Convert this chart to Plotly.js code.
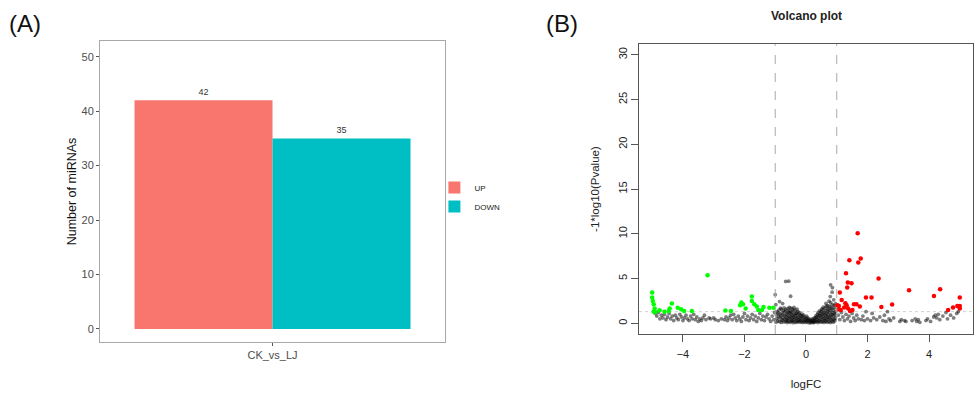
<!DOCTYPE html>
<html>
<head>
<meta charset="utf-8">
<script src="https://cdn.plot.ly/plotly-3.0.1.min.js"></script>
<style>html,body{margin:0;padding:0;background:#fff;}#chart{width:974px;height:394px;}</style>
</head>
<body>
<div id="chart"></div>
<script>
// ---- Panel A data ----
const categories = ["CK_vs_LJ"];
const upCounts = [42];
const downCounts = [35];
const yTicksA = [0, 10, 20, 30, 40, 50];

// ---- Panel B data (logFC, -log10 Pvalue) ----
const upPoints = [
  [1.68,10.07],[1.41,7.05],[1.78,7.24],[1.70,6.79],[1.30,5.60],[2.36,5.00],
  [1.36,4.55],[1.48,4.48],[1.34,3.99],[1.10,3.43],[3.35,3.69],[4.36,3.80],
  [4.16,3.06],[1.95,2.87],[2.13,2.87],[1.16,2.61],[1.28,2.24],[1.32,2.01],
  [1.56,2.13],[1.64,2.13],[1.75,1.87],[1.02,2.01],[1.05,1.57],[1.13,1.49],
  [1.37,1.64],[1.43,1.38],[1.51,1.49],[2.45,1.83],[2.80,2.09],[5.00,2.87],
  [5.00,1.94],[5.00,1.64],[4.92,1.94],[4.78,1.75],[4.62,1.49],[1.24,1.75],
  [1.07,1.94]
];
const downPoints = [
  [-5.00,3.43],[-5.00,2.87],[-4.98,2.50],[-4.95,2.13],[-4.92,1.64],[-4.90,1.27],
  [-4.95,1.30],[-4.76,1.45],[-4.60,1.30],[-4.46,1.38],[-4.36,2.20],[-4.43,1.64],
  [-4.17,1.72],[-4.06,1.57],[-3.96,1.38],[-3.71,1.38],[-3.20,5.37],[-2.62,1.42],
  [-2.44,1.38],[-2.10,2.31],[-2.05,2.13],[-2.14,2.00],[-1.96,1.64],[-1.76,2.99],
  [-1.76,2.50],[-1.68,2.13],[-1.60,1.87],[-1.55,1.49],[-1.43,1.49],[-1.38,1.83],
  [-1.19,1.72],[-1.06,1.72]
];
const nsLeft = [
  [-4.9,1.1],[-4.85,0.8],[-4.8,1.2],[-4.75,0.5],[-4.7,0.9],[-4.65,0.6],[-4.6,1.0],
  [-4.55,0.4],[-4.5,0.7],[-4.45,1.1],[-4.4,0.5],[-4.35,0.8],[-4.3,0.3],[-4.25,0.9],
  [-4.2,0.6],[-4.15,0.4],[-4.1,1.0],[-4.05,0.7],[-4.0,0.3],[-3.95,0.6],[-3.9,0.9],
  [-3.85,0.5],[-3.8,0.3],[-3.75,0.8],[-3.7,0.5],[-3.65,1.0],[-3.6,0.4],[-3.55,0.7],
  [-3.5,0.2],[-3.45,0.5],[-3.4,0.3],[-3.35,0.6],[-3.3,0.9],[-3.25,0.4],[-3.15,0.6],
  [-3.1,0.5],[-3.0,0.6],[-2.95,0.4],[-2.85,0.3],[-2.75,0.5],[-2.65,0.4],[-2.6,0.7],
  [-2.55,0.3],[-2.5,0.6],[-2.45,0.9],[-2.4,0.4],[-2.35,1.0],[-2.3,0.6],[-2.25,0.3],
  [-2.2,0.8],[-2.15,0.5],[-2.1,0.2],[-2.05,0.7],[-2.0,1.1],[-1.95,0.4],[-1.9,0.8],
  [-1.85,0.3],[-1.8,0.6],[-1.75,1.0],[-1.7,0.4],[-1.65,0.8],[-1.6,0.2],[-1.55,0.6],
  [-1.5,1.1],[-1.45,0.4],[-1.4,0.8],[-1.35,0.3],[-1.3,0.7],[-1.25,1.0],[-1.2,0.5],
  [-1.15,0.2],[-1.1,0.8],[-1.05,0.4],[-1.02,1.2],[-1.0,3.2]
];
const nsCenter = [
  [-0.97,0.12],[-0.95,0.52],[-0.96,0.93],[-0.94,1.31],[-0.98,2.08],
  [-0.91,0.28],[-0.89,0.71],[-0.9,1.12],[-0.88,1.47],
  [-0.86,0.18],[-0.84,0.63],[-0.85,1.02],[-0.83,1.68],[-0.86,2.42],
  [-0.8,0.09],[-0.79,0.41],[-0.81,0.82],[-0.78,1.19],[-0.8,1.58],
  [-0.76,0.32],[-0.74,0.61],[-0.75,0.98],[-0.73,1.41],[-0.76,2.2],
  [-0.71,0.13],[-0.69,0.49],[-0.7,0.88],[-0.68,1.29],[-0.71,1.72],
  [-0.66,0.22],[-0.64,0.42],[-0.65,0.74],[-0.63,1.09],[-0.66,1.52],[-0.66,4.68],
  [-0.61,0.08],[-0.6,0.31],[-0.59,0.58],[-0.61,0.91],[-0.58,1.22],[-0.6,1.63],
  [-0.56,0.19],[-0.54,0.52],[-0.55,0.79],[-0.53,1.12],[-0.56,1.41],[-0.54,1.78],[-0.56,4.7],
  [-0.51,0.11],[-0.49,0.38],[-0.5,0.71],[-0.48,1.02],[-0.51,1.33],[-0.49,1.69],[-0.5,3.02],
  [-0.46,0.21],[-0.44,0.33],[-0.45,0.62],[-0.43,0.88],[-0.46,1.21],[-0.44,1.58],
  [-0.41,0.07],[-0.39,0.42],[-0.4,0.69],[-0.38,1.01],[-0.41,1.38],[-0.39,1.76],
  [-0.36,0.18],[-0.34,0.51],[-0.35,0.82],[-0.33,1.08],[-0.36,1.49],
  [-0.31,0.09],[-0.29,0.29],[-0.3,0.61],[-0.28,0.92],[-0.31,1.18],[-0.29,1.57],
  [-0.26,0.22],[-0.24,0.41],[-0.25,0.68],[-0.23,1.03],[-0.26,1.31],
  [-0.21,0.12],[-0.19,0.32],[-0.2,0.58],[-0.18,0.87],[-0.21,1.19],
  [-0.16,0.18],[-0.14,0.49],[-0.15,0.79],[-0.13,1.02],
  [-0.11,0.08],[-0.09,0.31],[-0.1,0.62],[-0.08,0.91],
  [-0.06,0.19],[-0.04,0.42],[-0.05,0.71],
  [-0.01,0.09],[0.01,0.28],[0.0,0.52],[0.02,0.79],
  [0.04,0.18],[0.06,0.39],[0.05,0.61],
  [0.09,0.07],[0.11,0.29],[0.1,0.48],
  [0.14,0.05],[0.16,0.21],[0.15,0.38],
  [0.19,0.11],[0.21,0.28],[0.2,0.49],
  [0.24,0.06],[0.26,0.19],[0.25,0.41],[0.27,0.59],
  [0.29,0.12],[0.31,0.31],[0.3,0.58],[0.32,0.81],
  [0.34,0.19],[0.36,0.42],[0.35,0.69],[0.37,0.98],
  [0.39,0.08],[0.41,0.29],[0.4,0.61],[0.42,0.89],[0.39,1.18],
  [0.44,0.21],[0.46,0.49],[0.45,0.82],[0.47,1.09],[0.44,1.39],
  [0.49,0.12],[0.51,0.38],[0.5,0.71],[0.52,0.99],[0.49,1.31],[0.51,1.58],
  [0.54,0.18],[0.56,0.51],[0.55,0.79],[0.57,1.12],[0.54,1.48],[0.56,1.79],
  [0.59,0.09],[0.61,0.32],[0.6,0.58],[0.62,0.91],[0.59,1.21],[0.61,1.69],
  [0.64,0.22],[0.66,0.48],[0.65,0.81],[0.67,1.08],[0.64,1.42],[0.66,1.88],[0.65,2.21],
  [0.69,0.11],[0.71,0.41],[0.7,0.69],[0.72,1.02],[0.69,1.31],[0.71,1.62],[0.7,1.98],
  [0.74,0.19],[0.76,0.52],[0.75,0.78],[0.77,1.19],[0.74,1.51],[0.76,1.91],[0.75,2.48],
  [0.79,0.08],[0.81,0.39],[0.8,0.72],[0.82,0.98],[0.79,1.41],[0.81,1.78],[0.8,2.31],[0.79,2.98],[0.8,4.3],
  [0.84,0.21],[0.86,0.49],[0.85,0.91],[0.87,1.18],[0.84,1.62],[0.86,2.08],[0.85,3.48],[0.86,3.98],
  [0.89,0.12],[0.91,0.42],[0.9,0.79],[0.92,1.12],[0.89,1.48],[0.91,1.98],[0.9,2.62],
  [0.94,0.28],[0.96,0.59],[0.95,0.98],[0.97,1.31],[0.94,1.72],[0.96,2.18]
];
const nsRight = [
  [1.05,0.9],[1.1,0.4],[1.15,1.2],[1.2,0.7],[1.25,0.3],[1.3,1.0],[1.35,0.5],[1.4,0.8],
  [1.45,0.2],[1.5,1.1],[1.55,0.6],[1.6,0.3],[1.65,0.9],[1.7,0.5],[1.8,0.4],[1.85,0.8],
  [1.9,0.3],[1.95,1.3],[2.0,0.5],[2.1,0.3],[2.15,1.1],[2.2,0.6],[2.3,0.4],[2.4,0.7],
  [2.5,0.3],[2.55,0.9],[2.6,0.2],[2.65,1.3],[2.7,0.5],[2.75,0.3],[2.85,0.6],[3.05,0.2],
  [3.1,0.4],[3.2,0.3],[3.25,0.2],[3.45,0.3],[3.55,0.5],[3.6,0.2],[3.65,0.4],[3.7,0.1],
  [3.9,0.3],[3.95,0.5],[4.05,0.2],[4.15,0.7],[4.2,0.9],[4.25,0.6],[4.3,1.0],[4.35,0.4],
  [4.45,0.8],[4.55,1.2],[4.6,0.5],[4.7,0.9],[4.8,0.6],[4.9,1.1],[4.95,1.3]
];
const xTicksB = [-4, -2, 0, 2, 4];
const yTicksB = [0, 5, 10, 15, 20, 25, 30];
const fcCut = [-1, 1];
const pCut = 1.3;

const nsAll = nsLeft.concat(nsCenter, nsRight);
const FONT = "Liberation Sans, Arial, sans-serif";

const traces = [
  {type:'bar', name:'UP', x:categories, y:upCounts, xaxis:'x', yaxis:'y',
   marker:{color:'#F8766D'}, text:upCounts.map(String), textposition:'outside',
   textfont:{size:9, color:'#333', family:FONT}, cliponaxis:false, hoverinfo:'none'},
  {type:'bar', name:'DOWN', x:categories, y:downCounts, xaxis:'x', yaxis:'y',
   marker:{color:'#00BFC4'}, text:downCounts.map(String), textposition:'outside',
   textfont:{size:9, color:'#333', family:FONT}, cliponaxis:false, hoverinfo:'none'},
  {type:'scatter', mode:'markers', x:nsAll.map(p=>p[0]), y:nsAll.map(p=>p[1]),
   xaxis:'x2', yaxis:'y2', showlegend:false,
   marker:{size:3.8, color:'rgba(0,0,0,0.5)', line:{width:0}}},
  {type:'scatter', mode:'markers', x:downPoints.map(p=>p[0]), y:downPoints.map(p=>p[1]),
   xaxis:'x2', yaxis:'y2', showlegend:false,
   marker:{size:4.5, color:'#00FF00', line:{width:0}}},
  {type:'scatter', mode:'markers', x:upPoints.map(p=>p[0]), y:upPoints.map(p=>p[1]),
   xaxis:'x2', yaxis:'y2', showlegend:false,
   marker:{size:4.5, color:'#FF0000', line:{width:0}}}
];

const layout = {
  width:974, height:394,
  margin:{l:0, r:0, t:0, b:0},
  paper_bgcolor:'#fff', plot_bgcolor:'#fff',
  font:{family:FONT, color:'#222'},
  barmode:'group', bargap:0.2, bargroupgap:0,
  showlegend:true,
  legend:{x:0.446, y:0.5, xanchor:'left', yanchor:'middle',
          font:{size:8, family:FONT, color:'#222'}, tracegroupgap:0,
          itemwidth:30, bgcolor:'rgba(0,0,0,0)'},
  xaxis:{domain:[0.1027,0.4569], anchor:'y', type:'category',
         showline:true, mirror:true, linecolor:'#a8a8a8', linewidth:1,
         ticks:'outside', ticklen:3, tickcolor:'#555',
         tickfont:{size:11, color:'#4d4d4d', family:FONT},
         showgrid:false, zeroline:false, fixedrange:true},
  yaxis:{domain:[0.132,0.896], anchor:'x', range:[-2.4,52.9],
         tickvals:yTicksA, showline:true, mirror:true, linecolor:'#a8a8a8', linewidth:1,
         ticks:'outside', ticklen:3, tickcolor:'#555',
         tickfont:{size:11, color:'#4d4d4d', family:FONT},
         showgrid:false, zeroline:false,
         title:{text:'Number of miRNAs', font:{size:12.5, color:'#111', family:FONT}, standoff:2}},
  xaxis2:{domain:[0.656,0.999], anchor:'y2', range:[-5.43,5.43],
          tickvals:xTicksB, ticktext:xTicksB.map(v=>v<0?'\u2212'+Math.abs(v):String(v)),
          showline:true, mirror:true, linecolor:'#555', linewidth:1,
          ticks:'outside', ticklen:7, tickcolor:'#555', ticklabelstandoff:3,
          tickfont:{size:11, color:'#222', family:FONT},
          showgrid:false, zeroline:false,
          title:{text:'logFC', font:{size:11.5, color:'#222', family:FONT}, standoff:20}},
  yaxis2:{domain:[0.1523,0.888], anchor:'x2', range:[-1.2,31.2],
          tickvals:yTicksB, tickangle:-90,
          showline:true, mirror:true, linecolor:'#555', linewidth:1,
          ticks:'outside', ticklen:7, tickcolor:'#555',
          tickfont:{size:11, color:'#222', family:FONT},
          showgrid:false, zeroline:false,
          title:{text:'-1*log10(Pvalue)', font:{size:11.5, color:'#222', family:FONT}, standoff:14}},
  shapes:[
    ...fcCut.map(v=>({type:'line', xref:'x2', yref:'y2 domain', x0:v, x1:v, y0:0, y1:1,
      line:{color:'#aaaaaa', width:1, dash:'dash'}})),
    {type:'line', xref:'x2 domain', yref:'y2', x0:0, x1:1, y0:pCut, y1:pCut,
      line:{color:'#d0d0d0', width:1, dash:'dot'}, layer:'below'}
  ],
  annotations:[
    {text:'(A)', xref:'paper', yref:'paper', x:7/974, y:1-23/394, xanchor:'left', yanchor:'middle',
     showarrow:false, font:{size:24, color:'#111', family:FONT}},
    {text:'(B)', xref:'paper', yref:'paper', x:544/974, y:1-23/394, xanchor:'left', yanchor:'middle',
     showarrow:false, font:{size:24, color:'#111', family:FONT}},
    {text:'<b>Volcano plot</b>', xref:'paper', yref:'paper', x:806/974, y:1-16/394,
     xanchor:'center', yanchor:'middle', showarrow:false, font:{size:12, color:'#222', family:FONT}}
  ]
};

Plotly.newPlot('chart', traces, layout, {staticPlot:true, displayModeBar:false});
</script>
</body>
</html>
